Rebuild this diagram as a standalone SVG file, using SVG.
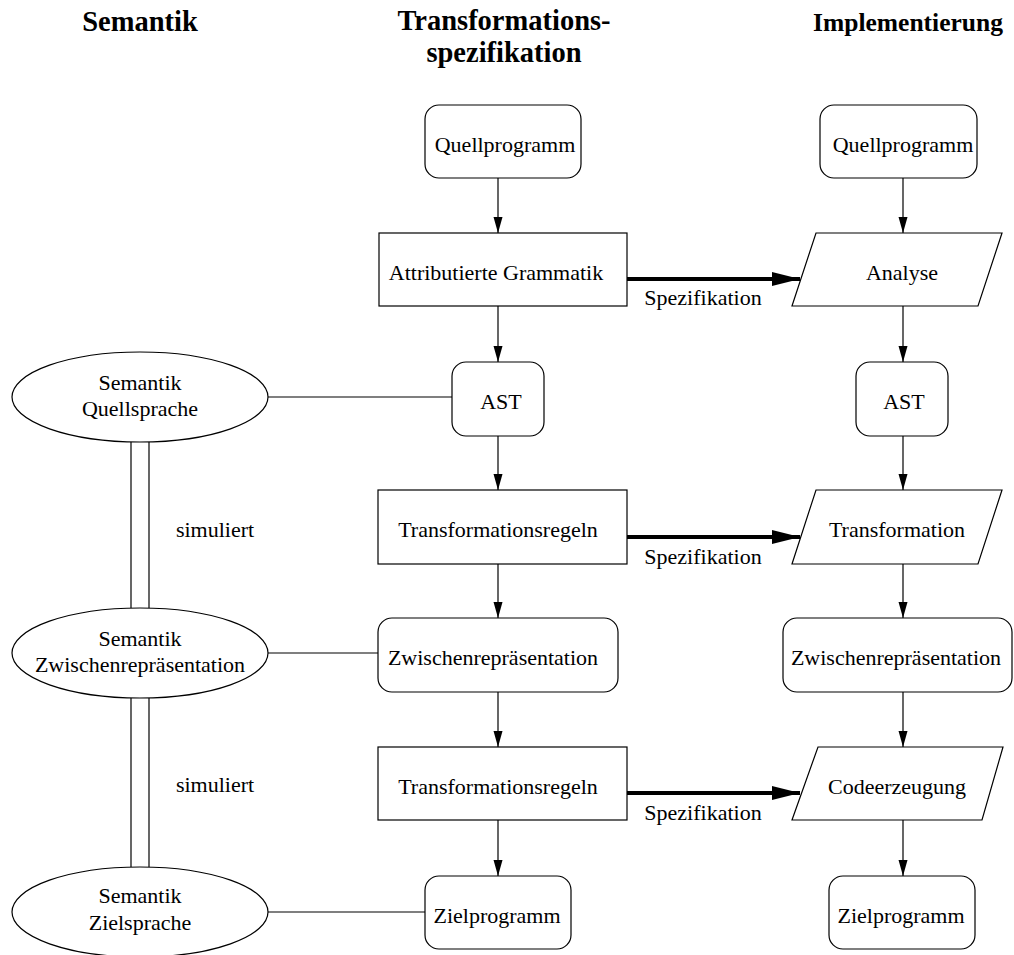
<svg xmlns="http://www.w3.org/2000/svg" width="1014" height="955" viewBox="0 0 1014 955">
<style>
.n{fill:#fff;stroke:#000;stroke-width:1.2}
.t{font-family:"Liberation Serif","Times New Roman",serif;font-size:22px;fill:#000;text-anchor:middle}
.h{font-family:"Liberation Serif","Times New Roman",serif;font-size:28.5px;font-weight:bold;fill:#000;text-anchor:middle}
.c{fill:none;stroke:#000;stroke-width:1.2}
.k{fill:none;stroke:#000;stroke-width:4}
</style>
<defs>
<marker id="a" markerUnits="userSpaceOnUse" markerWidth="16" markerHeight="10" refX="16" refY="5" orient="auto"><path d="M0,0.5 L16,5 L0,9.5 z" fill="#000"/></marker>
<marker id="b" markerUnits="userSpaceOnUse" markerWidth="28" markerHeight="14" refX="28" refY="7" orient="auto"><path d="M0,0 L28,7 L0,14 z" fill="#000"/></marker>
</defs>
<g id="headers">
<text class="h" x="140" y="31">Semantik</text>
<text class="h" x="504" y="30">Transformations-</text>
<text class="h" x="504" y="62">spezifikation</text>
<text class="h" x="908" y="31" style="font-size:25.5px">Implementierung</text>
</g>
<g id="connectors">
<line class="c" x1="498" y1="178" x2="498" y2="233" marker-end="url(#a)"/>
<line class="c" x1="498" y1="306" x2="498" y2="362" marker-end="url(#a)"/>
<line class="c" x1="498" y1="436" x2="498" y2="490" marker-end="url(#a)"/>
<line class="c" x1="498" y1="564" x2="498" y2="618" marker-end="url(#a)"/>
<line class="c" x1="498" y1="692" x2="498" y2="747" marker-end="url(#a)"/>
<line class="c" x1="498" y1="820" x2="498" y2="876" marker-end="url(#a)"/>
<line class="c" x1="903" y1="178" x2="903" y2="233" marker-end="url(#a)"/>
<line class="c" x1="903" y1="306" x2="903" y2="362" marker-end="url(#a)"/>
<line class="c" x1="903" y1="436" x2="903" y2="490" marker-end="url(#a)"/>
<line class="c" x1="903" y1="564" x2="903" y2="618" marker-end="url(#a)"/>
<line class="c" x1="903" y1="692" x2="903" y2="747" marker-end="url(#a)"/>
<line class="c" x1="903" y1="820" x2="903" y2="876" marker-end="url(#a)"/>
<line class="k" x1="627" y1="279" x2="800" y2="279" marker-end="url(#b)"/>
<line class="k" x1="627" y1="537" x2="800" y2="537" marker-end="url(#b)"/>
<line class="k" x1="627" y1="793" x2="800" y2="793" marker-end="url(#b)"/>
<text class="t" x="703" y="305">Spezifikation</text>
<text class="t" x="703" y="564">Spezifikation</text>
<text class="t" x="703" y="820">Spezifikation</text>
<line class="c" x1="268" y1="397" x2="452" y2="397"/>
<line class="c" x1="268" y1="653" x2="378" y2="653"/>
<line class="c" x1="268" y1="912" x2="425" y2="912"/>
<line class="c" x1="131" y1="442" x2="131" y2="608"/>
<line class="c" x1="149" y1="442" x2="149" y2="608"/>
<line class="c" x1="131" y1="698" x2="131" y2="867"/>
<line class="c" x1="149" y1="698" x2="149" y2="867"/>
<text class="t" x="215" y="537">simuliert</text>
<text class="t" x="215" y="792">simuliert</text>
</g>
<g id="sem1"><ellipse class="n" cx="140" cy="397" rx="128" ry="45"/><text class="t" x="140" y="390">Semantik</text><text class="t" x="140" y="416">Quellsprache</text></g>
<g id="sem2"><ellipse class="n" cx="140" cy="653" rx="128" ry="45"/><text class="t" x="140" y="646">Semantik</text><text class="t" x="140" y="672">Zwischenrepräsentation</text></g>
<g id="sem3"><ellipse class="n" cx="140" cy="912" rx="128" ry="45"/><text class="t" x="140" y="903">Semantik</text><text class="t" x="140" y="930">Zielsprache</text></g>
<g id="m1"><rect class="n" x="425" y="105" width="156" height="73" rx="14"/><text class="t" x="505" y="152">Quellprogramm</text></g>
<g id="m2"><rect class="n" x="379" y="233" width="248" height="73"/><text class="t" x="496" y="280">Attributierte Grammatik</text></g>
<g id="m3"><rect class="n" x="452" y="362" width="92" height="74" rx="14"/><text class="t" x="501" y="409">AST</text></g>
<g id="m4"><rect class="n" x="378" y="490" width="249" height="74"/><text class="t" x="498" y="537">Transformationsregeln</text></g>
<g id="m5"><rect class="n" x="378" y="618" width="240" height="74" rx="14"/><text class="t" x="493" y="665">Zwischenrepräsentation</text></g>
<g id="m6"><rect class="n" x="378" y="747" width="249" height="73"/><text class="t" x="498" y="794">Transformationsregeln</text></g>
<g id="m7"><rect class="n" x="425" y="876" width="146" height="73" rx="14"/><text class="t" x="497" y="923">Zielprogramm</text></g>
<g id="r1"><rect class="n" x="820" y="105" width="157" height="73" rx="14"/><text class="t" x="903" y="152">Quellprogramm</text></g>
<g id="r2"><polygon class="n" points="816,233 1002,233 978,306 792,306"/><text class="t" x="902" y="280">Analyse</text></g>
<g id="r3"><rect class="n" x="856" y="362" width="92" height="74" rx="14"/><text class="t" x="904" y="409">AST</text></g>
<g id="r4"><polygon class="n" points="816,490 1002,490 978,564 792,564"/><text class="t" x="897" y="537">Transformation</text></g>
<g id="r5"><rect class="n" x="783" y="618" width="229" height="74" rx="14"/><text class="t" x="896" y="665">Zwischenrepräsentation</text></g>
<g id="r6"><polygon class="n" points="818,747 1003,747 982,820 792,820"/><text class="t" x="897" y="794">Codeerzeugung</text></g>
<g id="r7"><rect class="n" x="829" y="876" width="146" height="73" rx="14"/><text class="t" x="901" y="923">Zielprogramm</text></g>
</svg>
